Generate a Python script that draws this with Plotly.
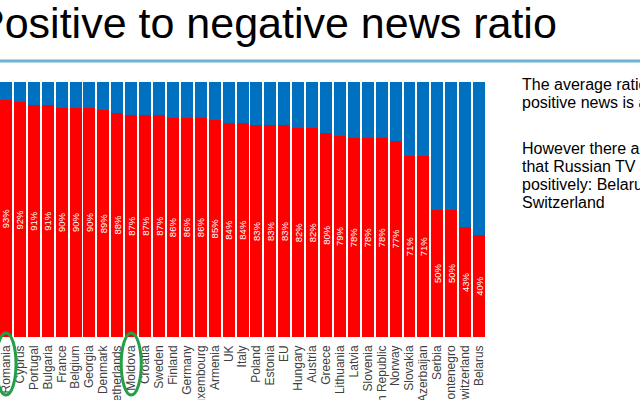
import plotly.graph_objects as go

countries = ["Romania", "Cyprus", "Portugal", "Bulgaria", "France", "Belgium", "Georgia",
             "Denmark", "Netherlands", "Moldova", "Croatia", "Sweden", "Finland", "Germany",
             "Luxembourg", "Armenia", "UK", "Italy", "Poland", "Estonia", "EU", "Hungary",
             "Austria", "Greece", "Lithuania", "Latvia", "Slovenia", "Czech Republic", "Norway",
             "Slovakia", "Azerbaijan", "Serbia", "Montenegro", "Switzerland", "Belarus"]
negative_pct = [93, 92, 91, 91, 90, 90, 90, 89, 88, 87, 87, 87, 86, 86, 86, 85, 84, 84, 83, 83,
                83, 82, 82, 80, 79, 78, 78, 78, 77, 71, 71, 50, 50, 43, 40]
positive_pct = [100 - v for v in negative_pct]
circled = ["Romania", "Moldova"]

title_text = "Positive to negative news ratio"
side_lines = ["The average ratio of negative to", "positive news is about 4:1",
              "However there are four countries", "that Russian TV covers",
              "positively: Belarus, Serbia, Montenegro and", "Switzerland"]

W, H = 640, 400
L, R, T, B = 0, 154, 82, 63
plot_w = W - L - R
plot_h = H - T - B


def px_x(px):
    return (px - L) / plot_w


def px_y(py):
    return (H - B - py) / plot_h


fig = go.Figure()
fig.add_trace(go.Bar(
    x=countries, y=negative_pct, marker=dict(color="#FF0000", line=dict(width=0)),
    text=[f"{v}%" for v in negative_pct], textposition="inside", insidetextanchor="middle",
    textangle=-90, textfont=dict(color="white", size=9.5, family="Liberation Sans, Arial"),
    constraintext="none", hoverinfo="skip", showlegend=False))
fig.add_trace(go.Bar(
    x=countries, y=positive_pct, marker=dict(color="#0070C0", line=dict(width=0)),
    hoverinfo="skip", showlegend=False))

shapes = [dict(type="line", xref="paper", yref="paper", x0=px_x(0), x1=px_x(W),
               y0=px_y(61), y1=px_y(61), line=dict(color="#6FB3D2", width=3))]
for c in circled:
    i = countries.index(c)
    shapes.append(dict(type="circle", xref="x", yref="paper", x0=i - 0.72, x1=i + 0.72,
                       y0=px_y(333), y1=px_y(395), line=dict(color="#23A046", width=3)))

annotations = [dict(text=title_text, xref="paper", yref="paper", x=px_x(-26), y=px_y(23),
                    xanchor="left", yanchor="middle", showarrow=False,
                    font=dict(size=43, color="black", family="Liberation Sans, Arial"))]
side_y = [84, 102, 148, 166, 184, 202]
for txt, yy in zip(side_lines, side_y):
    annotations.append(dict(text=txt, xref="paper", yref="paper", x=px_x(520), y=px_y(yy),
                            xanchor="left", yanchor="middle", showarrow=False, align="left",
                            font=dict(size=16, color="black", family="Liberation Sans, Arial")))

fig.update_layout(
    width=W, height=H, barmode="stack", bargap=0.14,
    margin=dict(l=L, r=R, t=T, b=B, pad=0, autoexpand=False),
    paper_bgcolor="white", plot_bgcolor="white",
    shapes=shapes, annotations=annotations,
    xaxis=dict(range=[-0.431, 34.5], tickangle=-90, showgrid=False, showline=False,
               tickmode="array", tickvals=countries, ticktext=countries,
               ticks="", ticklabelstandoff=5, automargin=False,
               tickfont=dict(size=12, color="#404040", family="Liberation Sans, Arial"),
               fixedrange=True),
    yaxis=dict(range=[0, 100], visible=False, fixedrange=True, automargin=False),
)

fig.write_html("out.html")
